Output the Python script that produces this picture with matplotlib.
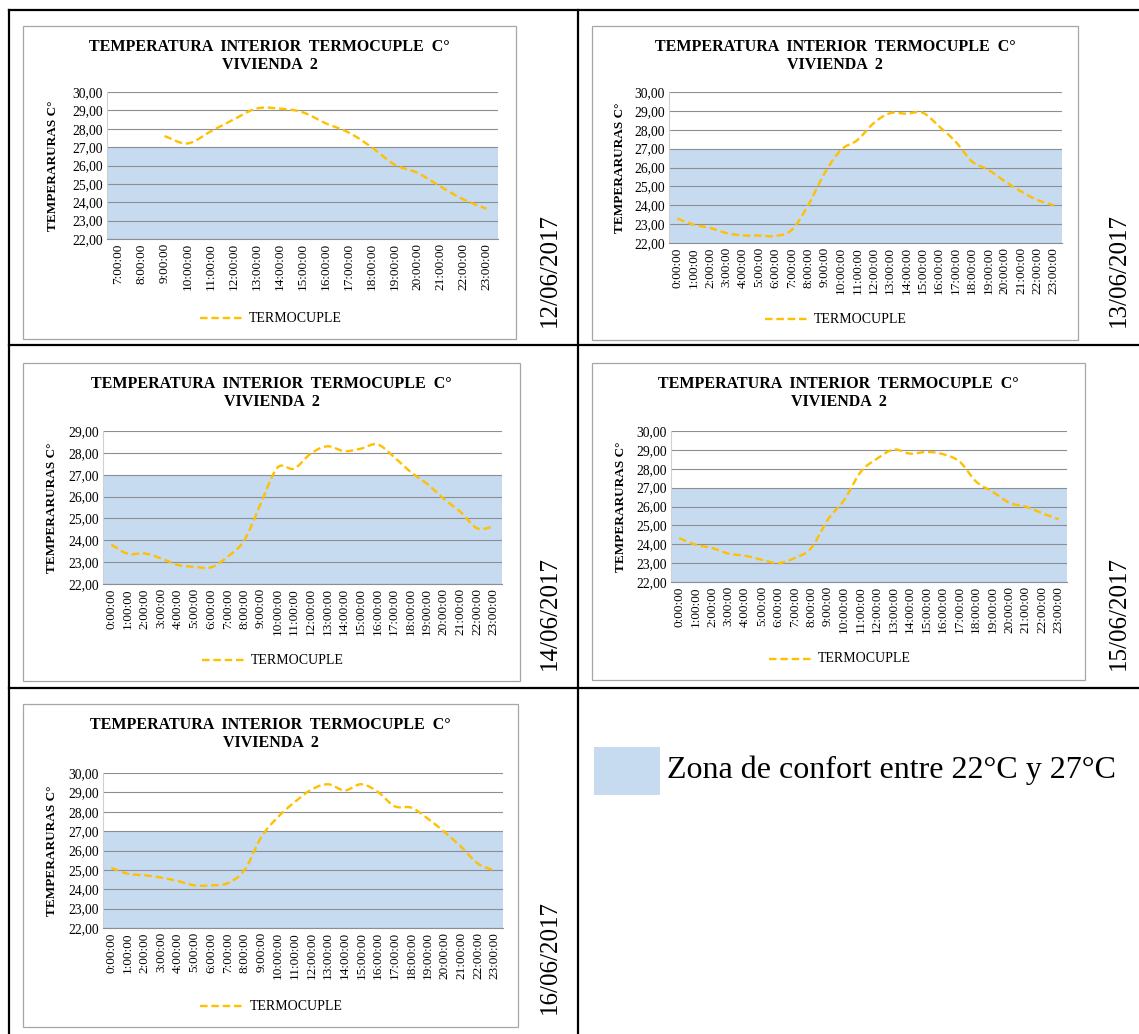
import numpy as np
import matplotlib
matplotlib.use("Agg")
import matplotlib.pyplot as plt
from matplotlib.lines import Line2D
from matplotlib.patches import Rectangle

W, H = 1139, 1034
plt.rcParams['font.family'] = ['Liberation Serif', 'DejaVu Serif']

# ---- data -------------------------------------------------------------------
hours_full = [f"{h}:00:00" for h in range(24)]
hours_day1 = [f"{h}:00:00" for h in range(7, 24)]

temp_12 = [np.nan, np.nan, 27.6, 27.2, 27.85, 28.5, 29.1, 29.1, 28.9, 28.3,
           27.8, 27.0, 26.05, 25.6, 24.85, 24.15, 23.65]
temp_13 = [23.3, 22.97, 22.8, 22.53, 22.4, 22.4, 22.37, 22.7, 24.0, 25.7,
           26.93, 27.45, 28.35, 28.88, 28.85, 28.9, 28.17, 27.37, 26.32, 25.88,
           25.27, 24.73, 24.28, 24.0]
temp_14 = [23.8, 23.38, 23.4, 23.17, 22.87, 22.79, 22.76, 23.25, 24.0, 25.7,
           27.33, 27.28, 27.97, 28.3, 28.08, 28.19, 28.39, 27.81, 27.13, 26.58,
           25.9, 25.3, 24.55, 24.62]
temp_15 = [24.32, 23.97, 23.8, 23.5, 23.39, 23.18, 23.0, 23.27, 23.8, 25.3,
           26.35, 27.84, 28.54, 29.02, 28.8, 28.89, 28.77, 28.37, 27.31, 26.78,
           26.2, 25.99, 25.64, 25.32]
temp_16 = [25.1, 24.8, 24.72, 24.6, 24.42, 24.2, 24.2, 24.32, 25.0, 26.7,
           27.73, 28.5, 29.14, 29.42, 29.1, 29.42, 29.02, 28.28, 28.21, 27.64,
           26.95, 26.18, 25.32, 24.97]

dates = ["12/06/2017", "13/06/2017", "14/06/2017", "15/06/2017", "16/06/2017"]
comfort_low, comfort_high = 22, 27

TITLE = "TEMPERATURA  INTERIOR  TERMOCUPLE  C°\nVIVIENDA  2"
YLABEL = "TEMPERARURAS C°"
SERIES = "TERMOCUPLE"
LEGEND_TEXT = "Zona de confort entre 22°C y 27°C"

LINE_C = "#FFC000"
ZONE_C = "#C6DAF0"
GRID_C = "#8A8F96"
BOX_C = "#A6A6A6"

# ---- layout (pixels) -------------------------------------------------------
# (labels, values, ymax, box[l,t,r,b], plot[l,t,r,b], date xy, ylabel x)
charts = [
    (hours_day1, temp_12, 30, (23, 26, 516, 339), (107, 92, 498, 239), (550, 270), 53),
    (hours_full, temp_13, 30, (592, 26, 1078, 340), (669, 92, 1062, 243), (1119, 270), 620),
    (hours_full, temp_14, 29, (23, 363, 520, 681), (103, 431, 502, 584), (550, 613), 52),
    (hours_full, temp_15, 30, (592, 363, 1085, 680), (671, 431, 1067, 582), (1119, 613), 621),
    (hours_full, temp_16, 30, (23, 704, 518, 1027), (103, 773, 503, 928), (550, 957), 52),
]


def smooth(x, y, n=16):
    """Catmull-Rom through the points (Excel-style smoothed line)."""
    x = np.asarray(x, float); y = np.asarray(y, float)
    px = np.concatenate([[2 * x[0] - x[1]], x, [2 * x[-1] - x[-2]]])
    py = np.concatenate([[2 * y[0] - y[1]], y, [2 * y[-1] - y[-2]]])
    t = np.linspace(0, 1, n, endpoint=False)
    ox, oy = [], []
    for i in range(1, len(px) - 2):
        for p, o in ((px, ox), (py, oy)):
            p0, p1, p2, p3 = p[i - 1], p[i], p[i + 1], p[i + 2]
            o.extend(0.5 * (2 * p1 + (-p0 + p2) * t
                            + (2 * p0 - 5 * p1 + 4 * p2 - p3) * t ** 2
                            + (-p0 + 3 * p1 - 3 * p2 + p3) * t ** 3))
    ox.append(x[-1]); oy.append(y[-1])
    return np.array(ox), np.array(oy)


def fx(px):
    return px / W


def fy(py):
    return 1 - py / H


fig = plt.figure(figsize=(W / 100, H / 100), dpi=100)

for k, (labels, vals, ymax, box, pa, dxy, ylx) in enumerate(charts):
    bl, bt, br, bb = box
    fig.patches.append(Rectangle((fx(bl), fy(bb)), fx(br - bl), (bb - bt) / H,
                                 transform=fig.transFigure, fill=False,
                                 edgecolor=BOX_C, linewidth=0.9))
    l, t, r, b = pa
    ax = fig.add_axes([fx(l), fy(b), fx(r - l), (b - t) / H])
    n = len(labels)
    x = np.arange(n)
    ax.set_xlim(-0.5, n - 0.5)
    ax.set_ylim(22, ymax)
    ax.axhspan(comfort_low, comfort_high, color=ZONE_C, zorder=0, lw=0)
    ax.set_yticks(np.arange(22, ymax + 1))
    ax.set_yticklabels([f"{v},00" for v in range(22, ymax + 1)], fontsize=9.8)
    ax.set_xticks(x)
    ax.set_xticklabels(labels, rotation=90, fontsize=9.5)
    ax.tick_params(length=0, pad=3)
    ax.yaxis.grid(True, color=GRID_C, linewidth=0.8, zorder=1)
    ax.set_axisbelow(True)
    for s in ("top", "right"):
        ax.spines[s].set_visible(False)
    ax.spines["left"].set_color("#D0D0D0")
    ax.spines["bottom"].set_color(GRID_C)

    v = np.asarray(vals, float)
    ok = ~np.isnan(v)
    sx, sy = smooth(x[ok], v[ok])
    ax.plot(sx, sy, color=LINE_C, lw=1.7, dashes=(3.2, 1.6), zorder=3)

    # y-axis title, centred on the plot height
    fig.text(fx(ylx), fy((t + b) / 2), YLABEL, rotation=90, ha="center",
             va="center", fontsize=9.5, fontweight="bold")

    cx = fx((bl + br) / 2)
    fig.text(cx, fy(bt + 30), TITLE, ha="center", va="center",
             fontsize=11.5, fontweight="bold", linespacing=1.2)

    # legend under each chart
    ly = bb - 21
    lx0 = (bl + br) / 2 - 70
    fig.lines.append(Line2D([fx(lx0), fx(lx0 + 44)], [fy(ly), fy(ly)],
                            transform=fig.transFigure, color=LINE_C,
                            lw=1.7, dashes=(3.2, 1.6)))
    fig.text(fx(lx0 + 49), fy(ly), SERIES, ha="left", va="center", fontsize=10)

    fig.text(fx(dxy[0]), fy(dxy[1]), dates[k],
             rotation=90, ha="center", va="center", fontsize=18)

# comfort-zone key in the last cell
fig.patches.append(Rectangle((fx(594), fy(795)), fx(66), 48 / H,
                             transform=fig.transFigure, color=ZONE_C, lw=0))
fig.text(fx(667), fy(770), LEGEND_TEXT, ha="left", va="center", fontsize=23)

# table rules
rules = [
    ((9, 10), (1139, 10)),
    ((9, 345), (1139, 345)),
    ((9, 688), (1139, 688)),
    ((9, 10), (9, 1034)),
    ((578, 10), (578, 1034)),
]
for (x0, y0), (x1, y1) in rules:
    fig.lines.append(Line2D([fx(x0), fx(x1)], [fy(y0), fy(y1)],
                            transform=fig.transFigure, color="black", lw=1.6))

fig.savefig("out.png", dpi=100)
